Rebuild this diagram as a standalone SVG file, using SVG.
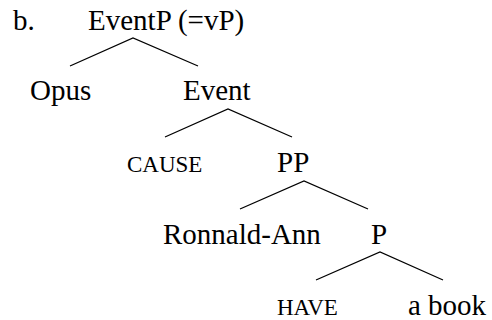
<svg xmlns="http://www.w3.org/2000/svg" width="492" height="320" viewBox="0 0 492 320">
<style>
text{font-family:"Liberation Serif","Times New Roman","DejaVu Serif",serif;fill:#000}
.n{font-size:29px}
.s{font-size:23px}
.e{stroke:#000;stroke-width:1.3;fill:none}
</style>
<rect width="492" height="320" fill="#fff"/>
<g id="label"><text class="n" x="13" y="30">b.</text></g>
<g id="eventp"><text class="n" x="88" y="30">EventP (=vP)</text></g>
<g id="opus"><text class="n" x="30" y="100">Opus</text></g>
<g id="event"><text class="n" x="183" y="100">Event</text></g>
<g id="cause"><text class="s" x="127" y="172">CAUSE</text></g>
<g id="pp"><text class="n" x="277" y="172">PP</text></g>
<g id="ronnald"><text class="n" x="163" y="244">Ronnald-Ann</text></g>
<g id="p"><text class="n" x="371" y="244">P</text></g>
<g id="have"><text class="s" x="277" y="315">HAVE</text></g>
<g id="book"><text class="n" x="408" y="315">a book</text></g>
<g id="connectors">
<path class="e" d="M70,66 L133,38 L198,66"/>
<path class="e" d="M165,137 L228,109 L292,137"/>
<path class="e" d="M240,209 L304,181 L368,209"/>
<path class="e" d="M316,280 L380,252 L443,280"/>
</g>
</svg>
